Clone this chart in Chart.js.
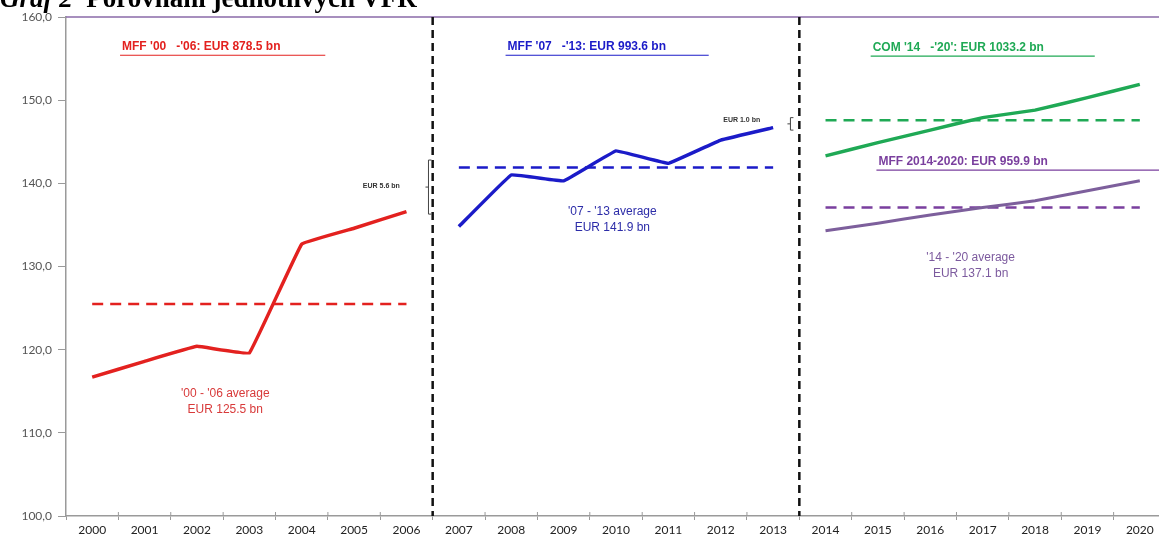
<!DOCTYPE html>
<html>
<head>
<meta charset="utf-8">
<script src="https://cdn.jsdelivr.net/npm/chart.js@4/dist/chart.umd.min.js"></script>
<style>
  html, body { margin: 0; padding: 0; background: #fff; overflow: hidden; }
  #wrap { position: relative; width: 1166px; height: 539px; }
  #title { position: absolute; left: 0; top: -15px; font: bold 27px/27px "Liberation Serif", "DejaVu Serif", serif; color: #000; white-space: nowrap; z-index: 2; }
  canvas { position: absolute; left: 0; top: 0; }
</style>
</head>
<body>
<div id="wrap">
  <div id="title"><i>Graf 2</i>&nbsp; Porovnání jednotlivých VFR</div>
  <canvas id="vfrChart" width="1166" height="539"></canvas>
</div>
<script>
// Years on the x axis
const years = ['2000','2001','2002','2003','2004','2005','2006','2007','2008','2009','2010',
  '2011','2012','2013','2014','2015','2016','2017','2018','2019','2020'];

// MFF 2000-2006 (red)
const mff00 = [116.7, 118.6, 120.4, 119.6, 132.7, 134.6, 136.6, null, null, null, null,
  null, null, null, null, null, null, null, null, null, null];
const mff00Avg = [125.5, 125.5, 125.5, 125.5, 125.5, 125.5, 125.5, null, null, null, null,
  null, null, null, null, null, null, null, null, null, null];

// MFF 2007-2013 (blue)
const mff07 = [null, null, null, null, null, null, null, 134.8, 141.0, 140.3, 143.9,
  142.4, 145.2, 146.7, null, null, null, null, null, null, null];
const mff07Avg = [null, null, null, null, null, null, null, 141.9, 141.9, 141.9, 141.9,
  141.9, 141.9, 141.9, null, null, null, null, null, null, null];

// Commission proposal 2014-2020 (green)
const com14 = [null, null, null, null, null, null, null, null, null, null, null,
  null, null, null, 143.3, 144.9, 146.4, 147.9, 148.8, 150.3, 151.9];
const com14Avg = [null, null, null, null, null, null, null, null, null, null, null,
  null, null, null, 147.6, 147.6, 147.6, 147.6, 147.6, 147.6, 147.6];

// MFF 2014-2020 (purple)
const mff14 = [null, null, null, null, null, null, null, null, null, null, null,
  null, null, null, 134.3, 135.2, 136.2, 137.1, 137.9, 139.1, 140.3];
const mff14Avg = [null, null, null, null, null, null, null, null, null, null, null,
  null, null, null, 137.1, 137.1, 137.1, 137.1, 137.1, 137.1, 137.1];

const yTicks = [100, 110, 120, 130, 140, 150, 160];

const RED = '#e3211f', BLUE = '#1b1bc8', GREEN = '#1fa955', PURPLE = '#7d5f9c', PURPLE_D = '#7a3f9e';

function line(label, data, color, width) {
  return { label, data, borderColor: color, borderWidth: width, pointRadius: 0, tension: 0.05, spanGaps: false };
}
function dashed(label, data, color) {
  return { label, data, borderColor: color, borderWidth: 2.5, borderDash: [11, 7], pointRadius: 0, spanGaps: false };
}

// text and marker overlay, anchored to category index / value
const notes = {
  id: 'notes',
  afterDatasetsDraw(chart) {
    const { ctx, chartArea: a } = chart;
    const xs = chart.scales.x, ys = chart.scales.y;
    const X = i => xs.getPixelForValue(i);
    const Y = v => ys.getPixelForValue(v);
    ctx.save();

    // top border in purple
    ctx.strokeStyle = '#8a6aa8';
    ctx.lineWidth = 1.5;
    ctx.beginPath(); ctx.moveTo(a.left, a.top); ctx.lineTo(a.right, a.top); ctx.stroke();

    // small tick marks poking above the x axis
    ctx.strokeStyle = '#9a9a9a';
    ctx.lineWidth = 1;
    for (let i = 0.5; i < years.length; i++) {
      ctx.beginPath(); ctx.moveTo(X(i), a.bottom); ctx.lineTo(X(i), a.bottom - 4); ctx.stroke();
    }

    // period separators
    ctx.strokeStyle = '#111';
    ctx.lineWidth = 2.5;
    ctx.setLineDash([8, 5]);
    [6.5, 13.5].forEach(i => {
      ctx.beginPath(); ctx.moveTo(X(i), a.top); ctx.lineTo(X(i), a.bottom); ctx.stroke();
    });
    ctx.setLineDash([]);

    // headers with underline
    const header = (txt, color, i0, v, i1, vu) => {
      ctx.font = 'bold 12px "Liberation Sans", Arial, sans-serif';
      ctx.fillStyle = color;
      ctx.textAlign = 'left';
      ctx.textBaseline = 'middle';
      ctx.fillText(txt, X(i0), Y(v));
      ctx.strokeStyle = color;
      ctx.lineWidth = 1.2;
      ctx.beginPath(); ctx.moveTo(X(i0) - 2, Y(vu)); ctx.lineTo(Math.min(X(i1), a.right), Y(vu)); ctx.stroke();
    };
    header("MFF '00   -'06: EUR 878.5 bn", RED, 0.57, 156.4, 4.45, 155.4);
    header("MFF '07   -'13: EUR 993.6 bn", BLUE, 7.93, 156.4, 11.77, 155.4);
    header("COM '14   -'20': EUR 1033.2 bn", GREEN, 14.9, 156.3, 19.14, 155.3);
    header("MFF 2014-2020: EUR 959.9 bn", PURPLE_D, 15.01, 142.6, 21, 141.6);

    // average labels
    const avg = (l1, l2, color, i, v) => {
      ctx.font = '12px "Liberation Sans", Arial, sans-serif';
      ctx.fillStyle = color;
      ctx.textAlign = 'center';
      ctx.textBaseline = 'middle';
      ctx.fillText(l1, X(i), Y(v));
      ctx.fillText(l2, X(i), Y(v - 1.95));
    };
    avg("'00 - '06 average", 'EUR 125.5 bn', '#d83a3a', 2.54, 114.7);
    avg("'07 - '13 average", 'EUR 141.9 bn', '#2c2ca8', 9.93, 136.6);
    avg("'14 - '20 average", 'EUR 137.1 bn', '#7c5a9e', 16.77, 131.1);

    // gap notes with braces
    ctx.font = 'bold 7px "Liberation Sans", Arial, sans-serif';
    ctx.fillStyle = '#333';
    ctx.textAlign = 'center';
    ctx.fillText('EUR 5.6 bn', X(5.52), Y(139.7));
    ctx.fillText('EUR 1.0 bn', X(12.4), Y(147.6));
    const brace = (i, v0, v1) => {
      const x = X(i), y0 = Y(v0), y1 = Y(v1), m = (y0 + y1) / 2;
      ctx.strokeStyle = '#444';
      ctx.lineWidth = 1;
      ctx.beginPath();
      ctx.moveTo(x + 3, y0); ctx.lineTo(x, y0); ctx.lineTo(x, y1); ctx.lineTo(x + 3, y1);
      ctx.moveTo(x, m); ctx.lineTo(x - 3, m);
      ctx.stroke();
    };
    brace(6.42, 142.8, 136.3);
    brace(13.33, 147.9, 146.4);
    ctx.restore();
  }
};

new Chart(document.getElementById('vfrChart'), {
  type: 'line',
  data: {
    labels: years,
    datasets: [
      line('MFF 2000-2006', mff00, RED, 3.5),
      dashed('2000-2006 average', mff00Avg, RED),
      line('MFF 2007-2013', mff07, BLUE, 3.5),
      dashed('2007-2013 average', mff07Avg, BLUE),
      line('COM 2014-2020', com14, GREEN, 3.5),
      dashed('COM average', com14Avg, GREEN),
      line('MFF 2014-2020', mff14, PURPLE, 3),
      dashed('2014-2020 average', mff14Avg, PURPLE_D)
    ]
  },
  options: {
    responsive: false,
    animation: false,
    layout: { padding: { top: 17, right: 0, left: 0, bottom: 0 } },
    plugins: { legend: { display: false }, tooltip: { enabled: false } },
    scales: {
      x: {
        offset: true,
        border: { color: '#9a9a9a', width: 1.5 },
        grid: { display: true, offset: true, drawOnChartArea: false, drawTicks: true, tickLength: 4, color: '#9a9a9a', lineWidth: 1 },
        ticks: { color: '#222', font: { family: 'Lato, "Liberation Sans", sans-serif', size: 12 }, padding: 3, maxRotation: 0, autoSkip: false },
        afterFit: s => { s.height = 23; }
      },
      y: {
        min: 100, max: 160,
        afterBuildTicks: s => { s.ticks = yTicks.map(v => ({ value: v })); },
        border: { color: '#9a9a9a', width: 1.5 },
        grid: { drawOnChartArea: false, drawTicks: true, tickLength: 8, color: '#9a9a9a' },
        ticks: {
          color: '#555', font: { family: 'Lato, "Liberation Sans", sans-serif', size: 12 }, padding: 6,
          callback: v => v.toFixed(1).replace('.', ',')
        },
        afterFit: s => { s.width = 66; }
      }
    }
  },
  plugins: [notes]
});
</script>
</body>
</html>
